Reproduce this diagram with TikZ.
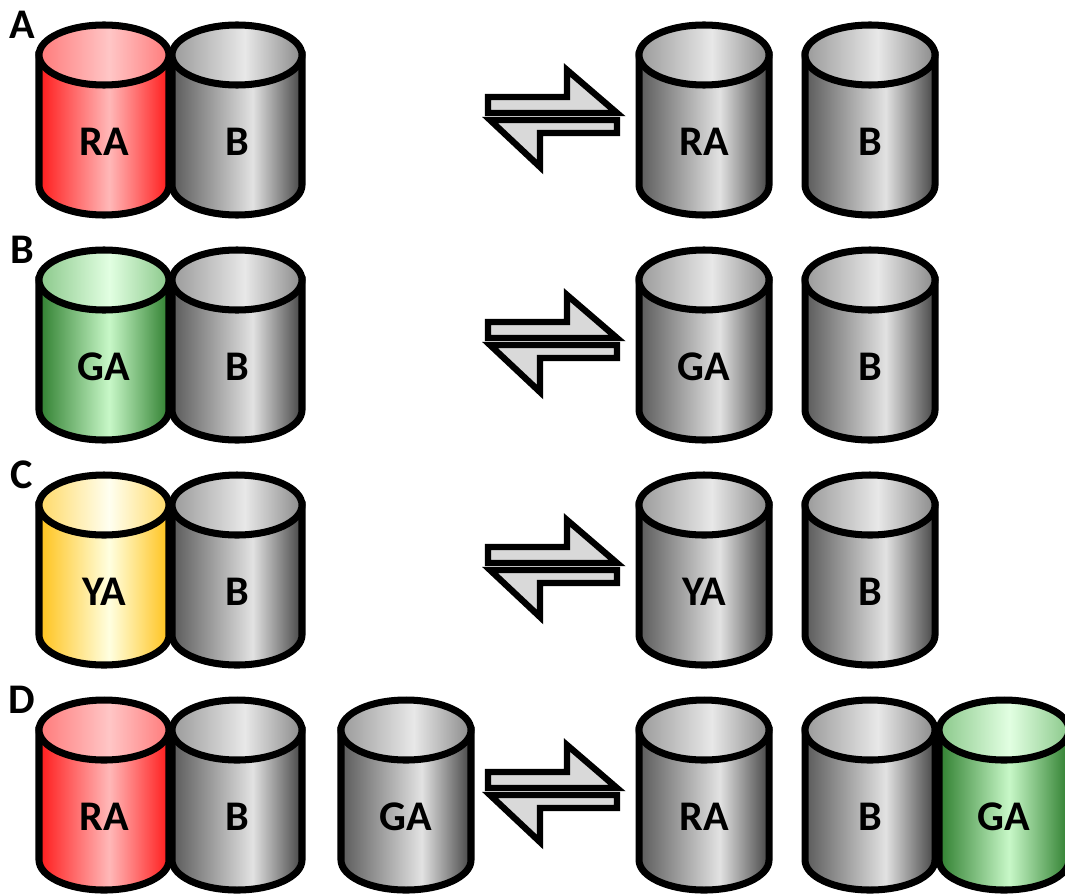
\documentclass[tikz,border=0pt]{standalone}
\usepackage{fontspec}
\setmainfont{Carlito}

% body and lid colours of the cans
\definecolor{grayedge}{HTML}{5A5A5A}
\definecolor{grayrim}{HTML}{454545}
\definecolor{graymid}{HTML}{E2E2E2}
\definecolor{graylidL}{HTML}{9A9A9A}
\definecolor{graylidM}{HTML}{E8E8E8}
\definecolor{graylidR}{HTML}{8A8A8A}
\definecolor{rededge}{HTML}{FF1A1A}
\definecolor{redmid}{HTML}{FFB8B8}
\definecolor{redlidL}{HTML}{FF7A7A}
\definecolor{redlidM}{HTML}{FFC6C6}
\definecolor{greenedge}{HTML}{2F7F2F}
\definecolor{greenmid}{HTML}{C8F8C8}
\definecolor{greenlidL}{HTML}{8AC88A}
\definecolor{greenlidM}{HTML}{E2FFE2}
\definecolor{yellowedge}{HTML}{FFC21A}
\definecolor{yellowmid}{HTML}{FFFFE0}
\definecolor{yellowlidL}{HTML}{FFD966}
\definecolor{yellowlidM}{HTML}{FFFFF0}
\definecolor{arrowgray}{HTML}{D9D9D9}

\pgfdeclarehorizontalshading{canbodygray}{100bp}{color(0bp)=(grayedge); color(25bp)=(grayedge); color(56bp)=(graymid); color(75bp)=(grayrim); color(100bp)=(grayrim)}
\pgfdeclarehorizontalshading{cantopgray}{100bp}{color(0bp)=(graylidL); color(25bp)=(graylidL); color(53bp)=(graylidM); color(75bp)=(graylidR); color(100bp)=(graylidR)}
\pgfdeclarehorizontalshading{canbodyred}{100bp}{color(0bp)=(rededge); color(25bp)=(rededge); color(52bp)=(redmid); color(75bp)=(rededge); color(100bp)=(rededge)}
\pgfdeclarehorizontalshading{cantopred}{100bp}{color(0bp)=(redlidL); color(25bp)=(redlidL); color(52bp)=(redlidM); color(75bp)=(redlidL); color(100bp)=(redlidL)}
\pgfdeclarehorizontalshading{canbodygreen}{100bp}{color(0bp)=(greenedge); color(25bp)=(greenedge); color(52bp)=(greenmid); color(75bp)=(greenedge); color(100bp)=(greenedge)}
\pgfdeclarehorizontalshading{cantopgreen}{100bp}{color(0bp)=(greenlidL); color(25bp)=(greenlidL); color(52bp)=(greenlidM); color(75bp)=(greenlidL); color(100bp)=(greenlidL)}
\pgfdeclarehorizontalshading{canbodyyellow}{100bp}{color(0bp)=(yellowedge); color(25bp)=(yellowedge); color(52bp)=(yellowmid); color(75bp)=(yellowedge); color(100bp)=(yellowedge)}
\pgfdeclarehorizontalshading{cantopyellow}{100bp}{color(0bp)=(yellowlidL); color(25bp)=(yellowlidL); color(52bp)=(yellowlidM); color(75bp)=(yellowlidL); color(100bp)=(yellowlidL)}

\tikzset{
  canline/.style={draw=black, line width=2pt},
  canlabel/.style={font=\fontsize{12}{14}\selectfont\bfseries, inner sep=0pt},
  rowlabel/.style={font=\fontsize{12}{14}\selectfont\bfseries, inner sep=0pt},
  harpoon/.style={fill=arrowgray, draw=black, line width=1.8pt, line join=miter},
}

% \can{name}{centre x}{lid centre y}{colour}{text}
\newcommand\can[5]{%
  \shade[canline, shading=canbody#4]
    ({#2-65},{#3}) -- ({#2-65},{#3-130})
    arc[start angle=180, end angle=360, x radius=65, y radius=30]
    -- ({#2+65},{#3}) -- cycle;
  \shade[canline, shading=cantop#4] (#2,#3) ellipse[x radius=65, y radius=30];
  \node[canlabel] (#1) at (#2,{#3-87}) {#5};
}

% \swap{x}{y}: the pair of half arrows
\newcommand\swap[2]{%
  \begin{scope}[shift={(#1,#2)}]
    \filldraw[harpoon] (0,-27) -- (79,-27) -- (79,0) -- (129,-43) -- (0,-43) -- cycle;
    \filldraw[harpoon] (2,-50) -- (129,-50) -- (129,-63) -- (52,-63) -- (52,-97) -- cycle;
  \end{scope}
}

\begin{document}
\begin{tikzpicture}[x=0.01cm, y=0.01cm]
\useasboundingbox (0,0) rectangle (1065,-894);
\clip (0,0) rectangle (1065,-894);

% A
\node[rowlabel] (labA) at (22,-25) {A};
\can{raA}{104}{-55}{red}{RA}
\can{bA}{237}{-55}{gray}{B}
\swap{488}{-70}
\can{raAr}{704}{-55}{gray}{RA}
\can{bAr}{870}{-55}{gray}{B}

% B
\node[rowlabel] (labB) at (22,-250) {B};
\can{gaB}{104}{-280}{green}{GA}
\can{bB}{237}{-280}{gray}{B}
\swap{488}{-295}
\can{gaBr}{704}{-280}{gray}{GA}
\can{bBr}{870}{-280}{gray}{B}

% C
\node[rowlabel] (labC) at (22,-475) {C};
\can{yaC}{104}{-505}{yellow}{YA}
\can{bC}{237}{-505}{gray}{B}
\swap{488}{-520}
\can{yaCr}{704}{-505}{gray}{YA}
\can{bCr}{870}{-505}{gray}{B}

% D
\node[rowlabel] (labD) at (22,-700) {D};
\can{raD}{104}{-730}{red}{RA}
\can{bD}{237}{-730}{gray}{B}
\can{gaD}{406}{-730}{gray}{GA}
\swap{488}{-745}
\can{raDr}{704}{-730}{gray}{RA}
\can{bDr}{870}{-730}{gray}{B}
\can{gaDr}{1004}{-730}{green}{GA}
\end{tikzpicture}
\end{document}
